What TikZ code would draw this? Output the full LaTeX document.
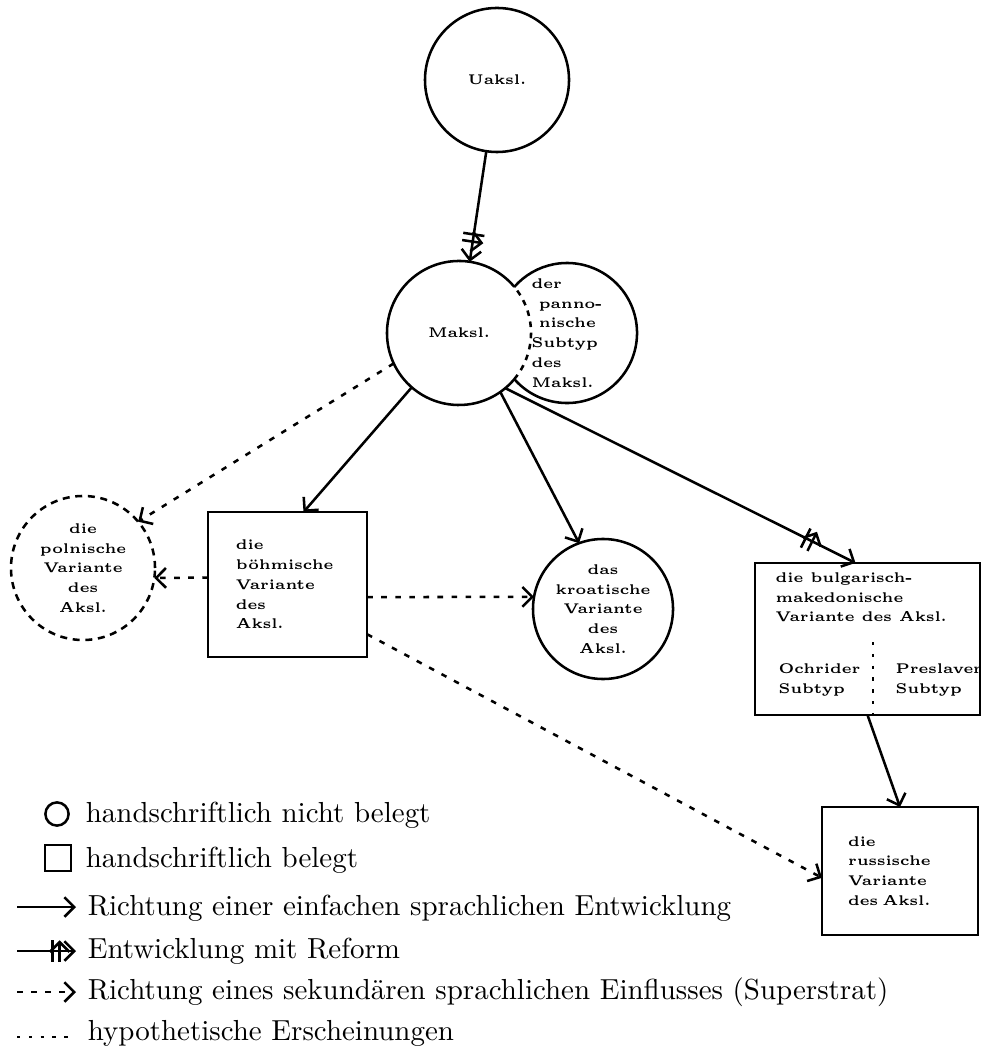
\documentclass[tikz,border=0pt]{standalone}
\usepackage{tikz}
\usetikzlibrary{arrows.meta,positioning,decorations.markings}
\newcommand{\knotenfont}{\fontsize{5}{7}\selectfont\bfseries}
\newcommand{\legendfont}{\fontsize{10.3}{12}\selectfont}
\tikzstyle{kreis} = [circle, minimum size=1.8cm, inner sep=0pt, outer sep=0pt, draw, line width=0.9pt, align=center, font=\knotenfont]
\tikzstyle{hypokreis} = [kreis, dash pattern=on 2.5pt off 2pt]
\tikzstyle{kasten} = [rectangle, inner sep=0pt, outer sep=0pt, draw, line width=0.9pt, align=left, font=\knotenfont]
\tikzstyle{kastentext} = [inner sep=0pt, align=left, font=\knotenfont]
\tikzstyle{arrow} = [line width=0.9pt, -{Straight Barb[length=3.5pt,width=7pt]}]
\tikzstyle{superstrat} = [arrow, dash pattern=on 2pt off 3pt]
\tikzstyle{hypoline} = [line width=0.9pt, dash pattern=on 1.2pt off 3pt]
\tikzstyle{legende} = [anchor=base west, inner xsep=4pt, inner ysep=0pt, font=\legendfont]
\tikzset{reform/.style={postaction={decorate}, decoration={markings, mark=at position #1 with {\draw[line width=0.9pt] (-1.3pt,-3.8pt) -- (-1.3pt,3.8pt) (1.3pt,-3.8pt) -- (1.3pt,3.8pt);}}}}

\begin{document}
\begin{tikzpicture}[x=0.0125cm, y=0.0125cm]
\useasboundingbox (0,0) rectangle (991,-1055);
% Urform
\node[kreis] (uaksl) at (497,-80) {Uaksl.};

% Maksl. mit pannonischem Subtyp
\node[kreis, draw=none] (maksl) at (459,-333) {Maksl.};
\node[kreis, draw=none, minimum size=1.75cm, align=left] (pann) at (567,-333) {der\\ \ panno-\\ \ nische\\ Subtyp\\ des\\ Maksl.};
\draw[line width=0.9pt] (maksl.40) arc[start angle=40, end angle=320, radius=0.9cm];
\draw[line width=0.9pt, dash pattern=on 2pt off 2pt] (maksl.-40) arc[start angle=-40, end angle=40, radius=0.9cm];
\draw[line width=0.9pt] (pann.-139) arc[start angle=-139, end angle=139, radius=0.875cm];

\draw[arrow, reform=-0.3cm] (uaksl) -- (maksl);

% Varianten
\node[hypokreis] (pol) at (83,-568) {die\\polnische\\Variante\\des\\Aksl.};
\node[kasten, minimum width=1.99cm, minimum height=1.81cm, text width=1.29cm] (boehm) at (287.5,-584.5) {die\\b\"ohmische\\Variante\\des\\Aksl.};
\node[kreis, minimum size=1.75cm] (kroat) at (603,-609) {das\\kroatische\\Variante\\des\\Aksl.};
\node[kasten, minimum width=2.81cm, minimum height=1.9cm] (bulg) at (867.5,-639) {};
\node[kastentext, anchor=north west] (bulgtext) at (775,-572) {die bulgarisch-\\makedonische\\Variante des Aksl.};
\node[kastentext, anchor=west] (ochrid) at (778,-680) {Ochrider\\Subtyp};
\node[kastentext, anchor=west] (preslav) at (895,-680) {Preslaver\\Subtyp};
\coordinate (teilung) at (873,-642);
\draw[hypoline] (teilung) -- (teilung |- bulg.south);
\node[kasten, minimum width=1.95cm, minimum height=1.6cm, text width=1.3cm] (russ) at (900,-871) {die\\russische\\Variante\\des Aksl.};

\draw[arrow] (maksl.229) -- ([xshift=0.2cm]boehm.north);
\draw[arrow] (maksl.-55) -- (kroat.110);
\draw[arrow, reform=-0.65cm] (maksl.-50) -- ([xshift=-0.15cm]bulg.north);
\draw[arrow] (bulg.south) -- (russ.north);

\draw[superstrat] (maksl.205) -- (pol.40);
\draw[superstrat] (boehm.175) -- (pol.-8);
\draw[superstrat] (boehm.-9) -- (kroat.170);
\draw[superstrat] (boehm.-32) -- (russ.185);

% Legende
\node[circle, draw, minimum size=0.29cm, inner sep=0pt, line width=0.9pt] (symkreis) at (57,-814) {};
\node[rectangle, draw, minimum size=0.33cm, inner sep=0pt, line width=0.9pt] (symkasten) at (58,-858) {};
\node[legende] (l1) at (74,-822) {handschriftlich nicht belegt};
\node[legende] (l2) at (74,-867) {handschriftlich belegt};
\node[legende] (l3) at (76,-915) {Richtung einer einfachen sprachlichen Entwicklung};
\node[legende] (l4) at (76,-958) {Entwicklung mit Reform};
\node[legende] (l5) at (76,-999) {Richtung eines sekund\"aren sprachlichen Einflusses (Superstrat)};
\node[legende] (l6) at (76,-1040) {hypothetische Erscheinungen};
\coordinate (k3) at (17,-907);
\coordinate (k4) at (17,-951);
\coordinate (k5) at (17,-992);
\coordinate (k6) at (17,-1037);
\draw[arrow] (k3) -- (k3 -| l3.west);
\draw[arrow, reform=-0.25cm] (k4) -- (k4 -| l4.west);
\draw[superstrat] (k5) -- (k5 -| l5.west);
\draw[hypoline] (k6) -- (k6 -| l6.west);
\end{tikzpicture}
\end{document}
